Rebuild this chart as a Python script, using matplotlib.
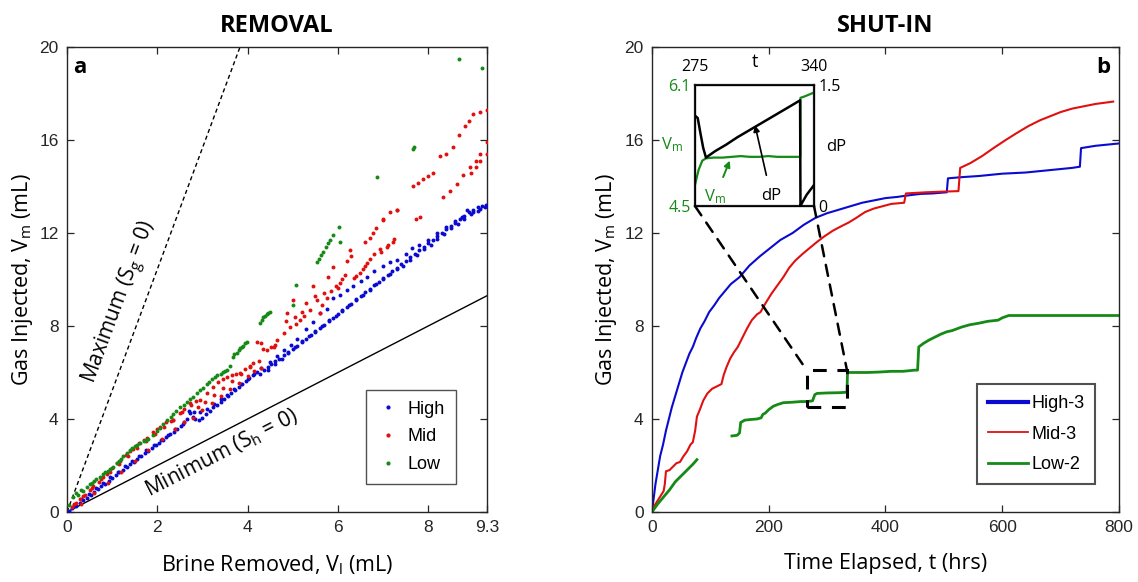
import matplotlib
matplotlib.use('Agg')
import matplotlib.pyplot as plt
from matplotlib.lines import Line2D
from matplotlib.patches import Rectangle, ConnectionPatch

plt.rcParams['font.family'] = 'Liberation Sans'
plt.rcParams['mathtext.fontset'] = 'custom'
plt.rcParams['mathtext.rm'] = 'Open Sans'
plt.rcParams['mathtext.it'] = 'Open Sans:italic'

TXT = 'Open Sans'
BLUE = '#0a0ad0'
RED = '#e01010'
GREEN = '#168a16'
SPINE = '#262626'

# ---- panel a: gas injected vs brine removed (mL) ----
high_vl = [0.05, 0.12, 0.2, 0.28, 0.36, 0.44, 0.52, 0.6, 0.68, 0.76, 0.84, 0.92, 1.0, 1.08,
           1.16, 1.24, 1.32, 1.4, 1.48, 1.56, 1.64, 1.72, 1.8, 1.88, 1.96, 2.04, 2.12, 2.2,
           2.28, 2.36, 2.44, 2.52, 2.6, 2.66, 2.72, 2.78, 2.84, 2.92, 3.0, 3.08, 3.16, 3.24,
           3.32, 3.4, 3.48, 3.56, 3.64, 3.72, 3.8, 3.88, 3.96, 4.04, 4.12, 4.2, 4.28, 4.36,
           4.44, 4.52, 4.6, 4.7, 4.8, 4.9, 5.0, 5.1, 5.2, 5.3, 5.4, 5.5, 5.6, 5.7, 5.8, 5.9,
           6.0, 6.1, 6.2, 6.3, 6.4, 6.5, 6.6, 6.7, 6.8, 6.9, 7.0, 7.1, 7.2, 7.3, 7.4, 7.5,
           7.6, 7.7, 7.8, 7.9, 8.0, 8.1, 8.2, 8.3, 8.4, 8.5, 8.6, 8.7, 8.8, 8.9, 9.0, 9.1,
           9.2, 9.28,
           4.5, 4.65, 4.8, 4.95, 5.1, 5.3, 5.45, 5.6, 5.75, 5.9, 6.05, 6.2, 6.33, 6.5, 6.64,
           6.8, 7.0, 7.15, 7.3, 7.5, 7.65, 7.8, 8.0, 8.2, 8.4, 8.6, 8.75, 8.85, 9.0, 9.15,
           0.16, 0.32, 0.48, 0.64, 0.8, 0.96, 1.12, 1.28, 1.44, 1.6, 1.76, 1.92, 2.08, 2.24,
           2.4, 2.56, 2.7, 2.82, 2.95, 3.1, 3.25, 3.4, 3.55, 3.7, 3.85, 4.0, 4.15, 4.3, 4.45,
           4.6, 4.75, 4.9, 5.05, 5.2, 5.35, 5.5, 5.65, 5.8, 5.95, 6.1, 6.25, 6.4, 6.55, 6.7,
           6.85, 7.0, 7.15, 7.3, 7.45, 7.6, 7.75, 7.9, 8.05, 8.2, 8.35, 8.5, 8.65, 8.8, 8.95,
           9.1, 9.25]
high_vm = [0.05, 0.15, 0.26, 0.38, 0.5, 0.62, 0.74, 0.86, 0.98, 1.1, 1.22, 1.34, 1.46, 1.58,
           1.7, 1.82, 1.94, 2.05, 2.17, 2.28, 2.4, 2.52, 2.63, 2.75, 2.86, 2.98, 3.1, 3.22,
           3.34, 3.46, 3.58, 3.7, 3.85, 4.0, 4.25, 4.1, 3.98, 3.95, 4.05, 4.2, 4.35, 4.5,
           4.62, 4.75, 4.88, 5.0, 5.12, 5.25, 5.38, 5.5, 5.62, 5.75, 5.9, 6.0, 5.95, 6.1,
           6.22, 6.35, 6.48, 6.6, 6.75, 6.88, 7.02, 7.15, 7.3, 7.45, 7.6, 7.75, 7.9, 8.05,
           8.2, 8.35, 8.5, 8.65, 8.8, 8.95, 9.1, 9.28, 9.45, 9.6, 9.75, 9.9, 10.05, 10.2,
           10.35, 10.5, 10.65, 10.8, 10.95, 11.1, 11.25, 11.4, 11.55, 11.7, 11.85, 12.0,
           12.15, 12.3, 12.45, 12.6, 12.75, 12.9, 13.0, 13.1, 13.15, 13.2,
           6.45, 6.7, 6.95, 7.2, 7.45, 7.85, 8.15, 8.55, 8.75, 9.2, 9.35, 9.55, 9.7, 9.95,
           10.1, 10.35, 10.6, 10.75, 10.85, 11.1, 11.35, 11.5, 11.7, 12.0, 12.25, 12.5,
           12.7, 13.0, 12.9, 13.05,
           0.3, 0.55, 0.78, 1.02, 1.25, 1.5, 1.72, 1.96, 2.2, 2.42, 2.65, 2.88, 3.1, 3.32,
           3.55, 3.78, 4.35, 4.32, 4.3, 4.45, 4.65, 4.85, 5.05, 5.3, 5.5, 5.7, 5.95, 6.2, 6.1,
           6.35, 6.6, 6.85, 7.1, 7.35, 7.55, 7.8, 8.0, 8.25, 8.45, 8.7, 8.9, 9.15, 9.35, 9.55,
           9.8, 10.0, 10.25, 10.45, 10.6, 10.85, 11.05, 11.3, 11.5, 11.75, 11.95, 12.2, 12.4,
           12.6, 12.8, 12.95, 13.1]

mid_vl = [0.1, 0.2, 0.29, 0.4, 0.5, 0.58, 0.7, 0.8, 0.88, 1.0, 1.1, 1.17, 1.3, 1.4, 1.46,
          1.6, 1.7, 1.77, 1.9, 2.0, 2.06, 2.2, 2.3, 2.35, 2.5, 2.6, 2.73, 2.85, 2.95, 3.1,
          3.23, 3.35, 3.45, 3.54, 3.65, 3.75, 3.83, 3.95, 4.05, 4.12, 4.2, 4.3, 4.42, 4.52,
          4.58, 4.65,
          0.3, 0.6, 0.9, 1.2, 1.5, 1.8, 2.1, 2.4, 2.6, 2.8, 3.0, 3.2, 3.4, 3.6, 3.8, 4.0,
          4.15, 4.3,
          0.15, 0.35, 0.55, 0.75, 0.95, 1.15, 1.35, 1.55, 1.75, 1.95, 2.15, 2.35, 2.55, 2.75,
          2.9, 3.05, 3.25, 3.45, 3.65, 3.85, 4.05, 4.25, 4.35, 4.6,
          4.87, 4.94, 5.0, 5.08, 5.16, 5.25, 5.38, 5.45, 5.53, 5.6, 5.7, 5.78, 5.89, 5.95,
          6.04, 6.1, 6.27, 6.35, 6.49, 6.6, 6.71, 6.8, 6.93, 7.08, 7.22, 6.71, 6.85, 7.0,
          7.15, 7.3, 7.72, 7.82, 7.66, 7.77, 7.88, 8.0, 8.1, 8.26, 8.4, 8.55, 8.68, 8.81,
          8.9, 9.0, 9.15, 9.3,
          4.8, 4.85, 5.05, 5.2, 5.3, 5.5, 5.65, 5.75, 5.85, 6.0, 6.15, 6.2, 6.3, 6.4, 6.55,
          6.65, 6.95, 7.1, 7.25, 6.6, 6.78, 7.0, 7.3,
          8.33, 8.48, 8.63, 8.78, 8.92, 9.05, 9.15, 9.3,
          8.95, 9.05, 9.15, 9.3]
mid_vm = [0.2, 0.38, 0.55, 0.75, 0.95, 1.1, 1.3, 1.5, 1.65, 1.9, 2.1, 2.2, 2.45, 2.62, 2.7,
          2.95, 3.1, 3.2, 3.42, 3.58, 3.66, 3.85, 3.9, 3.96, 4.25, 4.45, 4.7, 4.76, 4.82, 5.1,
          5.38, 5.6, 5.72, 5.8, 5.88, 5.92, 5.96, 6.15, 6.3, 6.4, 7.3, 7.25, 6.97, 7.1, 7.1,
          7.4,
          0.35, 0.8, 1.25, 1.7, 2.2, 2.65, 3.15, 3.55, 3.85, 4.05, 4.4, 4.7, 5.0, 5.3,
          5.55, 5.85, 6.05, 6.2,
          0.35, 0.7, 1.05, 1.4, 1.72, 2.05, 2.4, 2.75, 3.05, 3.35, 3.65, 3.95, 4.3, 4.6,
          4.5, 4.75, 5.05, 5.35, 5.65, 5.95, 6.25, 6.5, 7.0, 7.2,
          8.55, 7.96, 9.1, 8.1, 8.26, 8.45, 8.7, 9.7, 9.1, 8.57, 9.4, 10.1, 10.55, 9.7,
          9.84, 10.0, 11.27, 10.05, 10.27, 10.6, 10.9, 11.1, 11.3, 11.4, 11.6, 11.8, 12.2,
          12.56, 12.9, 13.0, 12.6, 12.7, 14.0, 14.15, 14.3, 14.45, 14.6, 15.3, 15.4, 15.7,
          16.2, 16.6, 16.8, 17.1, 17.2, 17.3,
          7.7, 8.2, 8.4, 8.6, 9.0, 9.3, 8.9, 9.2, 9.5, 9.65, 10.2, 10.8, 11.0, 10.15, 10.45,
          10.7, 11.2, 11.5, 11.75, 11.6, 12.0, 12.6, 13.0,
          13.55, 13.8, 14.1, 14.5, 14.85, 15.1, 15.4, 15.9,
          14.6, 14.85, 15.1, 15.4]

low_vl = [0.05, 0.13, 0.25, 0.35, 0.44, 0.55, 0.65, 0.73, 0.85, 0.95, 1.02, 1.15, 1.25, 1.33,
          1.45, 1.55, 1.62, 1.75, 1.9, 2.05, 2.21, 2.35, 2.5, 2.65, 2.8, 2.95, 3.1, 3.2, 3.32,
          3.45, 3.54, 3.68, 3.76, 3.83, 3.9, 3.98, 4.27, 4.31, 4.35, 4.42, 4.5, 5.0, 5.07,
          5.53, 5.58, 5.63, 5.68, 5.73, 5.78, 5.83, 5.89, 6.04, 6.02, 6.87, 7.66, 7.69,
          8.68, 9.19,
          0.2, 0.3, 0.5, 0.6, 0.8, 0.9, 1.1, 1.2, 1.4, 1.5, 1.7, 1.8, 2.0, 2.13, 2.3, 2.42,
          2.58, 2.72, 2.88, 3.02, 3.15, 3.27, 3.4, 3.5, 3.6, 3.7, 3.8, 3.88, 3.94, 4.38,
          4.46]
low_vm = [0.3, 0.65, 0.75, 0.9, 1.07, 1.25, 1.4, 1.5, 1.7, 1.85, 1.94, 2.2, 2.4, 2.54, 2.75,
          2.9, 2.97, 3.1, 3.3, 3.6, 3.96, 4.2, 4.52, 4.73, 4.95, 5.25, 5.5, 5.7, 5.9, 6.0,
          6.1, 6.67, 6.85, 7.05, 7.15, 7.3, 8.13, 8.25, 8.4, 8.5, 8.6, 8.9, 9.76, 10.75,
          10.9, 11.05, 11.2, 11.4, 11.55, 11.7, 11.9, 11.6, 12.26, 14.4, 15.6, 15.7, 19.5,
          19.1,
          0.8, 0.95, 1.2, 1.35, 1.62, 1.78, 2.1, 2.3, 2.65, 2.82, 3.05, 3.15, 3.5, 3.8, 4.1,
          4.35, 4.62, 4.85, 5.1, 5.35, 5.6, 5.8, 5.95, 6.05, 6.3, 6.8, 6.95, 7.1, 7.25,
          8.45, 8.55]

vl_max = 9.3
slope_max = 5.22   # Sg = 0 bound
slope_min = 1.0    # Sh = 0 bound

# ---- panel b: gas injected vs time elapsed (hrs) ----
high_t = [0, 3, 6, 10, 14, 19, 24, 29, 34, 40, 46, 52, 58, 64, 70, 76, 83, 90, 98, 107, 115,
          125, 135, 150, 167, 185, 200, 220, 241, 260, 280, 300, 320, 340, 360, 380, 400,
          420, 440, 460, 480, 505, 507, 530, 560, 600, 640, 680, 720, 733, 735, 760, 800]
high_v = [0, 0.6, 1.2, 1.8, 2.4, 2.9, 3.5, 4.0, 4.5, 5.0, 5.5, 6.0, 6.4, 6.8, 7.1, 7.5, 7.9,
          8.2, 8.6, 8.9, 9.2, 9.5, 9.8, 10.1, 10.6, 11.0, 11.3, 11.7, 12.0, 12.35, 12.65,
          12.85, 13.0, 13.15, 13.3, 13.4, 13.5, 13.55, 13.62, 13.68, 13.7, 13.75, 14.35,
          14.4, 14.45, 14.55, 14.6, 14.7, 14.8, 14.85, 15.65, 15.75, 15.85]

mid_t = [0, 5, 10, 15, 20, 22, 24, 30, 36, 42, 48, 54, 60, 66, 70, 74, 77, 82, 88, 95, 103,
         111, 119, 123, 128, 134, 140, 147, 155, 163, 171, 180, 186, 195, 205, 215, 225, 235,
         245, 258, 270, 282, 295, 310, 325, 337, 350, 365, 380, 395, 410, 432, 435, 470, 500,
         525, 528, 545, 565, 585, 606, 625, 645, 665, 685, 700, 720, 740, 760, 781, 790]
mid_v = [0, 0.3, 0.5, 0.7, 0.9, 1.2, 1.75, 1.8, 1.95, 2.1, 2.15, 2.4, 2.6, 2.9, 3.0, 3.5, 4.1,
         4.4, 4.8, 5.1, 5.3, 5.4, 5.5, 5.9, 6.25, 6.6, 6.85, 7.1, 7.5, 7.9, 8.25, 8.5, 8.6,
         9.0, 9.4, 9.75, 10.1, 10.5, 10.8, 11.1, 11.35, 11.6, 11.85, 12.1, 12.3, 12.45, 12.65,
         12.9, 13.05, 13.15, 13.25, 13.3, 13.7, 13.75, 13.78, 13.8, 14.8, 15.0, 15.3, 15.65,
         16.0, 16.3, 16.6, 16.85, 17.05, 17.2, 17.35, 17.45, 17.55, 17.62, 17.65]

low_t1 = [0, 10, 20, 30, 40, 50, 60, 70, 77]
low_v1 = [0, 0.35, 0.65, 0.95, 1.3, 1.55, 1.8, 2.05, 2.25]
low_t2 = [137, 146, 150, 152, 159, 170, 180, 187, 190, 194, 200, 208, 215, 225, 240, 255, 266,
          275, 279, 283, 300, 320, 334, 335, 350, 370, 390, 410, 430, 450, 455, 457, 465, 475,
          483, 495, 505, 514, 530, 544, 560, 575, 593, 600, 611, 630, 660, 700, 750, 800]
low_v2 = [3.27, 3.3, 3.4, 3.85, 3.95, 3.98, 4.0, 4.05, 4.2, 4.25, 4.4, 4.55, 4.62, 4.7, 4.72,
          4.75, 4.75, 4.78, 5.05, 5.1, 5.12, 5.13, 5.15, 6.0, 6.0, 6.0, 6.02, 6.05, 6.05, 6.1,
          6.1, 7.1, 7.25, 7.4, 7.5, 7.65, 7.75, 7.8, 7.95, 8.05, 8.12, 8.2, 8.25, 8.35, 8.45,
          8.45, 8.45, 8.45, 8.45, 8.45]

# zoom window on Low-2
zoom_t = [265, 334]
zoom_v = [4.5, 6.1]

# inset: Low-2 volume and pressure difference between 275 and 340 hrs
ins_t = [275, 277, 279, 281, 285, 290, 295, 300, 305, 310, 315, 320, 325, 330, 332.5, 332.6,
         335, 338, 340]
ins_vm = [4.78, 4.98, 5.1, 5.13, 5.14, 5.14, 5.15, 5.16, 5.15, 5.15, 5.16, 5.15, 5.15, 5.15,
          5.15, 5.93, 5.95, 5.98, 6.0]
dp_t = [275, 276.5, 278, 279.5, 281, 286, 292, 298, 304, 310, 316, 322, 328, 332.4, 332.6,
        333.5, 336, 340]
dp_val = [1.12, 1.09, 0.9, 0.72, 0.6, 0.68, 0.76, 0.85, 0.93, 1.01, 1.09, 1.17, 1.25, 1.31,
          0.0, 0.04, 0.14, 0.26]

fig = plt.figure(figsize=(11.38, 5.82), dpi=100)
ax1 = fig.add_axes([0.0589, 0.1203, 0.369, 0.799])
ax2 = fig.add_axes([0.5729, 0.1203, 0.4104, 0.799])


def style_axes(ax):
    for s in ax.spines.values():
        s.set_color(SPINE)
        s.set_linewidth(1.0)
    ax.tick_params(direction='in', length=5, width=0.9, color=SPINE, top=True, right=True,
                   labelsize=12.5, labelcolor='#262626', pad=6)


# panel a
style_axes(ax1)
ax1.plot([0, vl_max], [0, slope_max * vl_max], color='black', ls=(0, (3, 2.2)), lw=1.0)
ax1.plot([0, vl_max], [0, slope_min * vl_max], color='black', lw=1.0)
ax1.scatter(high_vl, high_vm, s=8, color=BLUE, lw=0, zorder=3)
ax1.scatter(mid_vl, mid_vm, s=8, color=RED, lw=0, zorder=3)
ax1.scatter(low_vl, low_vm, s=8, color=GREEN, lw=0, zorder=3)
ax1.set_xlim(0, vl_max)
ax1.set_ylim(0, 20)
ax1.set_xticks([0, 2, 4, 6, 8, 9.3])
ax1.set_xticklabels(['0', '2', '4', '6', '8', '9.3'])
ax1.set_yticks([0, 4, 8, 12, 16, 20])
ax1.set_title('REMOVAL', family=TXT, fontweight='bold', fontsize=17, pad=11)
ax1.set_xlabel(r'Brine Removed, V$_{\rm l}$ (mL)', family=TXT, fontsize=15.5, labelpad=13)
ax1.set_ylabel(r'Gas Injected, V$_{\rm m}$ (mL)', family=TXT, fontsize=15.5, labelpad=3)
ax1.text(0.03, 0.955, 'a', transform=ax1.transAxes, family=TXT, fontweight='bold',
         fontsize=16, ha='center', va='center')
ax1.text(1.2, 9.0, r'Maximum (S$_{\rm g}$ = 0)', family=TXT, fontsize=15, rotation=69.6,
         ha='center', va='center', rotation_mode='anchor')
ax1.text(3.43, 2.54, r'Minimum (S$_{\rm h}$ = 0)', family=TXT, fontsize=15, rotation=27.1,
         ha='center', va='center', rotation_mode='anchor')
leg_a = [Line2D([], [], ls='none', marker='.', ms=4, color=c, label=n)
         for c, n in [(BLUE, 'High'), (RED, 'Mid'), (GREEN, 'Low')]]
lg1 = ax1.legend(handles=leg_a, loc='lower right', bbox_to_anchor=(0.926, 0.06),
                 fontsize=13, frameon=True, fancybox=False, edgecolor='#262626',
                 handlelength=1.2, handletextpad=0.5, borderpad=0.6, labelspacing=0.6,
                 borderaxespad=0)
lg1.get_frame().set_linewidth(1.0)

# panel b
style_axes(ax2)
ax2.plot(high_t, high_v, color=BLUE, lw=1.5)
ax2.plot(mid_t, mid_v, color=RED, lw=1.5)
ax2.plot(low_t1, low_v1, color=GREEN, lw=2.0)
ax2.plot(low_t2, low_v2, color=GREEN, lw=2.0)
ax2.set_xlim(0, 800)
ax2.set_ylim(0, 20)
ax2.set_xticks([0, 200, 400, 600, 800])
ax2.set_yticks([0, 4, 8, 12, 16, 20])
ax2.set_title('SHUT-IN', family=TXT, fontweight='bold', fontsize=17, pad=11)
ax2.set_xlabel('Time Elapsed, t (hrs)', family=TXT, fontsize=15.5, labelpad=13)
ax2.set_ylabel(r'Gas Injected, V$_{\rm m}$ (mL)', family=TXT, fontsize=15.5, labelpad=4)
ax2.text(0.966, 0.955, 'b', transform=ax2.transAxes, family=TXT, fontweight='bold',
         fontsize=16, ha='center', va='center')
leg_b = [Line2D([], [], color=BLUE, lw=3.0, label='High-3'),
         Line2D([], [], color=RED, lw=1.3, label='Mid-3'),
         Line2D([], [], color=GREEN, lw=2.0, label='Low-2')]
lg2 = ax2.legend(handles=leg_b, loc='lower right', bbox_to_anchor=(0.949, 0.06),
                 fontsize=13, frameon=True, fancybox=False, edgecolor='#262626',
                 handlelength=2.2, handletextpad=0.2, borderpad=0.6, labelspacing=0.75,
                 borderaxespad=0)
lg2.get_frame().set_linewidth(1.5)

dash = (0, (4.5, 3.5))
ax2.add_patch(Rectangle((zoom_t[0], zoom_v[0]), zoom_t[1] - zoom_t[0], zoom_v[1] - zoom_v[0],
                        fill=False, ec='black', lw=2.2, ls=dash, zorder=4))

# inset
axi = fig.add_axes([0.6107, 0.646, 0.1046, 0.208])
axi.plot(ins_t, ins_vm, color=GREEN, lw=1.6)
axi.set_xlim(275, 340)
axi.set_ylim(4.5, 6.1)
axi.set_xticks([275, 340])
axi.set_yticks([4.5, 6.1])
axi.xaxis.tick_top()
axi.tick_params(length=0, labelsize=11.5, pad=3)
axi.tick_params(axis='x', pad=7)
axi.tick_params(axis='y', labelcolor=GREEN)
for lab in axi.get_xticklabels() + axi.get_yticklabels():
    lab.set_family(TXT)
axi.text(0.5, 1.19, 't', transform=axi.transAxes, family=TXT, fontsize=13,
         ha='center', va='center')
axi.text(-0.19, 0.51, r'V$_{\rm m}$', transform=axi.transAxes, family=TXT, fontsize=12,
         color=GREEN, ha='center', va='center')
axi.text(1.19, 0.49, 'dP', transform=axi.transAxes, family=TXT, fontsize=12,
         ha='center', va='center')
for s in axi.spines.values():
    s.set_linewidth(1.6)
    s.set_color('#1a1a1a')

axp = axi.twinx()
axp.plot(dp_t, dp_val, color='black', lw=1.8)
axp.set_ylim(0, 1.5)
axp.set_yticks([0, 1.5])
axp.set_yticklabels(['0', '1.5'])
axp.tick_params(length=0, labelsize=11.5, pad=3)
for lab in axp.get_yticklabels():
    lab.set_family(TXT)

axi.annotate(r'V$_{\rm m}$', xy=(294, 5.1), xytext=(286, 4.62), color=GREEN, family=TXT,
             fontsize=12, ha='center', va='center',
             arrowprops=dict(arrowstyle='-|>', color=GREEN, lw=1.4, mutation_scale=9,
                             shrinkA=6, shrinkB=0))
axp.annotate('dP', xy=(307.8, 1.0), xytext=(316.5, 0.13), color='black', family=TXT,
             fontsize=12, ha='center', va='center',
             arrowprops=dict(arrowstyle='-|>', color='black', lw=1.2, mutation_scale=9,
                             shrinkA=7, shrinkB=0))

# leader lines from inset corners to the zoom window
for fx, tx in [(0, zoom_t[0]), (1, zoom_t[1])]:
    con = ConnectionPatch(xyA=(fx, 0), coordsA=axi.transAxes, xyB=(tx, zoom_v[1]),
                          coordsB=ax2.transData, color='black', lw=1.8, ls=dash, zorder=4)
    fig.add_artist(con)

fig.savefig('out.png', dpi=100)
